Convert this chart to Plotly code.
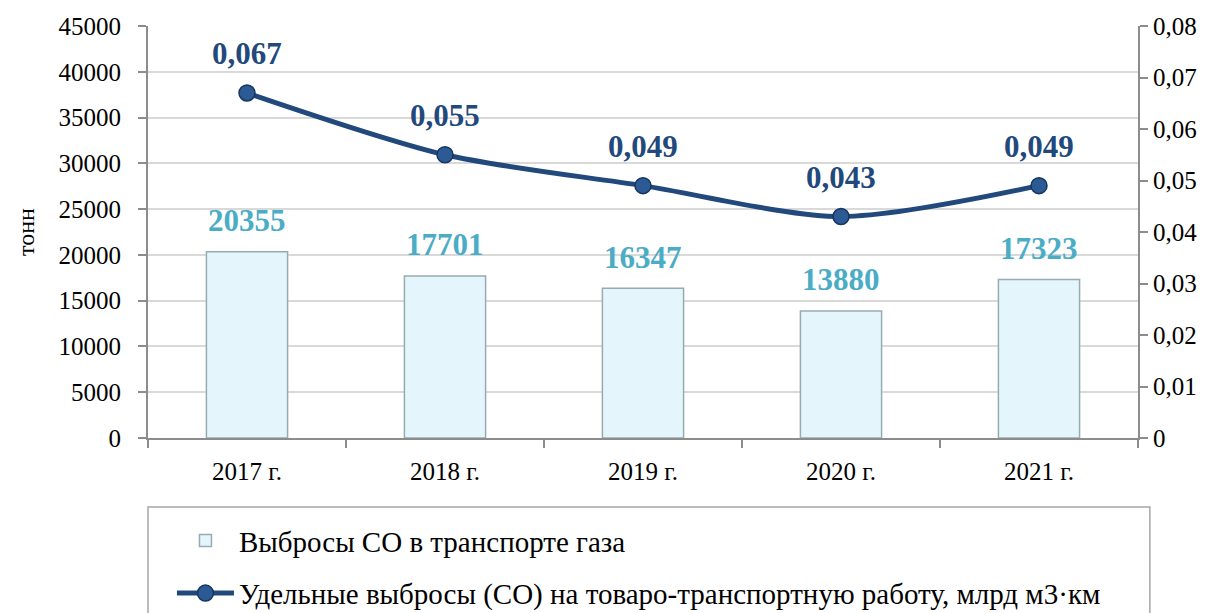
import plotly.graph_objects as go

categories = ["2017 г.", "2018 г.", "2019 г.", "2020 г.", "2021 г."]
emissions_t = [20355, 17701, 16347, 13880, 17323]
specific = [0.067, 0.055, 0.049, 0.043, 0.049]
specific_labels = ["0,067", "0,055", "0,049", "0,043", "0,049"]

left_ticks = [0, 5000, 10000, 15000, 20000, 25000, 30000, 35000, 40000, 45000]
left_ticktext = ["0", "5000", "10000", "15000", "20000", "25000", "30000", "35000", "40000", "45000"]
right_ticks = [0, 0.01, 0.02, 0.03, 0.04, 0.05, 0.06, 0.07, 0.08]
right_ticktext = ["0", "0,01", "0,02", "0,03", "0,04", "0,05", "0,06", "0,07", "0,08"]

name_bar = "Выбросы СО в транспорте газа"
name_line = "Удельные выбросы (СО) на товаро-транспортную работу, млрд м3·км"

FONT = "Times New Roman, Liberation Serif, DejaVu Serif, serif"
AXIS_COL = "#8C8C8C"

fig = go.Figure()
fig.add_trace(go.Bar(
    x=categories, y=emissions_t, name=name_bar, width=0.41,
    marker=dict(color="#E4F6FC", line=dict(color="#98AAB2", width=1.5)),
    legendgroup="a",
))
fig.add_trace(go.Scatter(
    x=categories, y=specific, name=name_line, yaxis="y2",
    mode="lines+markers",
    line=dict(color="#22497C", width=5, shape="spline", smoothing=0.8),
    marker=dict(size=16, color="#2B5A94", line=dict(color="#163660", width=1.5)),
    legendgroup="b",
))

annotations = []
for c, v in zip(categories, emissions_t):
    annotations.append(dict(x=c, y=v, xref="x", yref="y", text=str(v), showarrow=False,
                            yshift=31, font=dict(family=FONT, size=31, color="#4BACC6", weight="bold")))
for c, v, t in zip(categories, specific, specific_labels):
    annotations.append(dict(x=c, y=v, xref="x", yref="y2", text=t, showarrow=False,
                            yshift=39, font=dict(family=FONT, size=31, color="#22497C", weight="bold")))

fig.update_layout(
    width=1203, height=660,
    margin=dict(l=140, r=73, t=18, b=230),
    paper_bgcolor="white", plot_bgcolor="white",
    font=dict(family=FONT, size=25, color="#000000"),
    xaxis=dict(
        type="category", showline=True, linecolor=AXIS_COL, linewidth=2,
        ticks="outside", tickson="boundaries", ticklen=8, tickcolor=AXIS_COL, tickwidth=2,
        tickfont=dict(size=25), showgrid=False, ticklabelstandoff=10, automargin=False,
    ),
    yaxis=dict(
        range=[0, 45000], tickvals=left_ticks, ticktext=left_ticktext,
        showline=True, linecolor=AXIS_COL, linewidth=2,
        ticks="outside", ticklen=8, tickcolor=AXIS_COL, tickwidth=2,
        showgrid=True, gridcolor="#D9D9D9", gridwidth=1.5, zeroline=False,
        tickfont=dict(size=25), ticklabelstandoff=12, automargin=False,
        title=dict(text="тонн", font=dict(size=24), standoff=17),
    ),
    yaxis2=dict(
        range=[0, 0.08], tickvals=right_ticks, ticktext=right_ticktext,
        overlaying="y", side="right",
        showline=True, linecolor=AXIS_COL, linewidth=2,
        ticks="outside", ticklen=8, tickcolor=AXIS_COL, tickwidth=2,
        showgrid=False, zeroline=False, tickfont=dict(size=25), automargin=False,
    ),
    showlegend=True,
    legend=dict(
        x=0.0242, y=-0.187, xanchor="left", yanchor="top",
        font=dict(family=FONT, size=29, color="#000000"),
        bgcolor="rgba(0,0,0,0)", borderwidth=0,
        tracegroupgap=12, itemwidth=57,
    ),
    shapes=[dict(type="rect", xref="paper", yref="paper", x0=0, x1=1.012, y0=-0.1675, y1=-0.5,
                 line=dict(color="#A6A6A6", width=1.5), fillcolor="rgba(0,0,0,0)", layer="below")],
    annotations=annotations,
)

fig.write_html("out.html")
